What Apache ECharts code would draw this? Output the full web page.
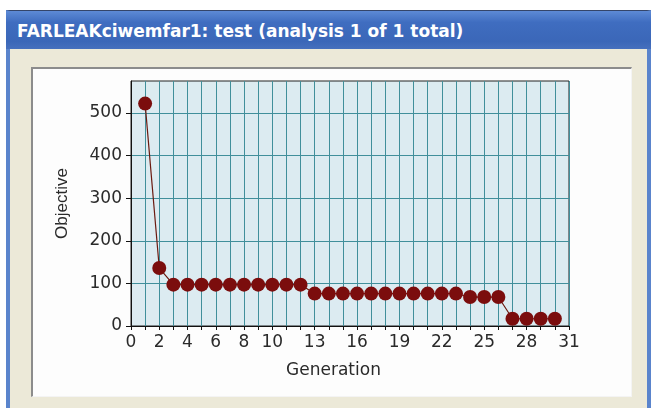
<!DOCTYPE html>
<html>
<head>
<meta charset="utf-8">
<script src="https://cdn.jsdelivr.net/npm/echarts@6/dist/echarts.min.js"></script>
<style>
  html, body { margin: 0; padding: 0; background: #fff; }
  #win {
    position: absolute; left: 6px; top: 10px; width: 645px; height: 398px;
    background: #ece9d8; box-sizing: border-box;
    border-left: 4px solid #5a84cc; border-right: 4px solid #5a84cc;
    border-top: 1px solid #34456a;
  }
  #titlebar {
    position: absolute; left: -4px; right: -4px; top: 0; height: 38px;
    background: linear-gradient(#5d8ad6, #3f6dc0 30%, #3b67b8 80%, #4670bd);
    color: #fff; font: bold 17px "DejaVu Sans", sans-serif;
    line-height: 40px; padding-left: 11px; box-sizing: border-box;
  }
  #panel {
    position: absolute; left: 31px; top: 67px; width: 601px; height: 330px;
    background: #fdfdfd; box-sizing: border-box;
    border-top: 2px solid #8c8c8c; border-left: 2px solid #8c8c8c;
    border-right: 1px solid #f4f4f4; border-bottom: 1px solid #f4f4f4;
  }
  #chart { position: absolute; left: 33px; top: 69px; width: 598px; height: 327px; }
</style>
</head>
<body>
<div id="win"><div id="titlebar">FARLEAKciwemfar1: test (analysis 1 of 1 total)</div></div>
<div id="panel"></div>
<div id="chart"></div>
<script>
// generation number and best objective found
const generations = [1, 2, 3, 4, 5, 6, 7, 8, 9, 10, 11, 12, 13, 14, 15,
  16, 17, 18, 19, 20, 21, 22, 23, 24, 25, 26, 27, 28, 29, 30];
const objective = [522, 136, 97, 97, 97, 97, 97, 97, 97, 97, 97, 97, 76, 76, 76,
  76, 76, 76, 76, 76, 76, 76, 76, 68, 68, 68, 17, 17, 17, 17];
const xTickLabels = [0, 2, 4, 6, 8, 10, 13, 16, 19, 22, 25, 28, 31];
const yTickLabels = [0, 100, 200, 300, 400, 500];

const chart = echarts.init(document.getElementById("chart"));
const labelStyle = { fontFamily: "DejaVu Sans", fontSize: 17, color: "#2a2a2a" };

chart.setOption({
  animation: false,
  grid: {
    left: 98, top: 12, right: 62, bottom: 70,
    show: true, backgroundColor: "#dcebf1", borderColor: "#222", borderWidth: 1,
  },
  xAxis: {
    type: "value", min: 0, max: 31, interval: 1,
    name: "Generation", nameLocation: "middle", nameGap: 36,
    nameTextStyle: { fontFamily: "DejaVu Sans", fontSize: 17, color: "#2a2a2a", padding: [0, 33, 0, 0] },
    axisLine: { lineStyle: { color: "#111", width: 1 } },
    axisTick: { show: true, length: 4, lineStyle: { color: "#111" } },
    axisLabel: { ...labelStyle, margin: 8, customValues: xTickLabels },
    splitLine: { show: true, lineStyle: { color: "#418f9b", width: 1 } },
  },
  yAxis: {
    type: "value", min: 0, max: 575, interval: 100,
    name: "Objective", nameLocation: "middle", nameGap: 60, nameRotate: 90,
    nameTextStyle: { fontFamily: "Liberation Sans", fontSize: 17, color: "#2a2a2a" },
    axisLine: { show: true, lineStyle: { color: "#111", width: 1 } },
    axisTick: { show: true, length: 5, lineStyle: { color: "#111" }, customValues: yTickLabels },
    axisLabel: { ...labelStyle, margin: 9, customValues: yTickLabels },
    splitLine: { show: true, lineStyle: { color: "#418f9b", width: 1 } },
  },
  series: [{
    type: "line",
    data: generations.map((g, i) => [g, objective[i]]),
    symbol: "circle", symbolSize: 14,
    itemStyle: { color: "#7b0d0d" },
    lineStyle: { color: "#6b1a10", width: 1.2 },
  }],
});
</script>
</body>
</html>
